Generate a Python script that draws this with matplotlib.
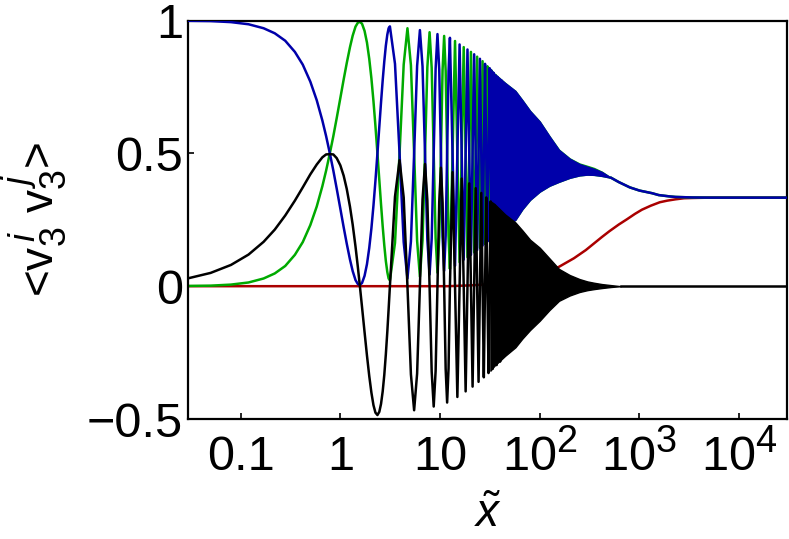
import matplotlib
matplotlib.use("Agg")
import matplotlib.pyplot as plt
from matplotlib.ticker import FixedLocator, FixedFormatter, NullLocator

try:
    import matplotlib._mathtext as _mt
    _mt.SHRINK_FACTOR = 0.78
except Exception:
    pass

plt.rcParams["font.family"] = ["Liberation Sans", "DejaVu Sans"]
plt.rcParams["mathtext.fontset"] = "custom"
plt.rcParams["mathtext.rm"] = "Liberation Sans"
plt.rcParams["mathtext.it"] = "Liberation Sans:italic"
plt.rcParams["mathtext.bf"] = "Liberation Sans:bold"

# ---------------- data ----------------
# distinct oscillations (x, then the three curves)
osc_x = [0.03, 0.05, 0.08, 0.12, 0.17, 0.22, 0.28, 0.35, 0.42, 0.5,
         0.58, 0.66, 0.72, 0.785, 0.85, 0.92, 1.0, 1.08, 1.16, 1.25,
         1.33, 1.42, 1.5, 1.571, 1.65, 1.75, 1.85, 1.95, 2.05, 2.15,
         2.25, 2.356, 2.46, 2.56, 2.66, 2.76, 2.86, 2.96, 3.05,
         3.142, 3.534, 3.927, 4.320, 4.712, 5.105, 5.498, 5.890, 6.283, 6.676,
         7.069, 7.461, 7.854, 8.247, 8.639, 9.032, 9.425, 9.817, 10.210, 10.603,
         10.996, 11.388, 11.781, 12.174, 12.566,
         13.352, 14.137, 14.923, 15.708, 16.493, 17.279, 18.064, 18.850, 19.635, 20.420,
         21.206, 21.991, 22.777, 23.562, 24.347, 25.133, 25.918, 26.704, 27.489, 28.274,
         29.060, 29.845, 30.631, 31.416, 32.201, 32.987, 33.772, 34.558, 35.343, 36.128,
         36.914, 37.699, 38.485, 39.270, 40.055, 40.841]

blue_osc = [0.999, 0.998, 0.994, 0.986, 0.971, 0.952, 0.924, 0.882, 0.834, 0.770,
            0.700, 0.624, 0.565, 0.500, 0.436, 0.367, 0.292, 0.222, 0.160, 0.100,
            0.057, 0.023, 0.008, 0.005, 0.012, 0.039, 0.083, 0.144, 0.218, 0.304,
            0.397, 0.500, 0.600, 0.692, 0.775, 0.846, 0.905, 0.947, 0.971,
            0.978, 0.837, 0.500, 0.166, 0.029, 0.168, 0.500, 0.829, 0.964, 0.827,
            0.500, 0.176, 0.044, 0.178, 0.500, 0.819, 0.949, 0.816, 0.500, 0.186,
            0.058, 0.189, 0.500, 0.809, 0.935,
            0.500, 0.077, 0.500, 0.910, 0.500, 0.100, 0.500, 0.891, 0.500, 0.118,
            0.500, 0.873, 0.500, 0.136, 0.500, 0.856, 0.500, 0.153, 0.499, 0.837,
            0.498, 0.168, 0.497, 0.821, 0.497, 0.181, 0.496, 0.803, 0.495, 0.195,
            0.495, 0.788, 0.494, 0.207, 0.494, 0.775]

green_osc = [0.001, 0.002, 0.006, 0.014, 0.029, 0.048, 0.076, 0.118, 0.166, 0.230,
             0.300, 0.376, 0.435, 0.500, 0.564, 0.633, 0.708, 0.778, 0.840, 0.900,
             0.943, 0.977, 0.992, 0.995, 0.988, 0.961, 0.917, 0.856, 0.782, 0.696,
             0.603, 0.500, 0.400, 0.308, 0.225, 0.154, 0.095, 0.053, 0.029,
             0.022, 0.163, 0.500, 0.834, 0.971, 0.832, 0.500, 0.171, 0.036, 0.173,
             0.500, 0.824, 0.956, 0.822, 0.500, 0.181, 0.051, 0.184, 0.500, 0.814,
             0.942, 0.811, 0.500, 0.191, 0.065,
             0.500, 0.923, 0.500, 0.090, 0.500, 0.900, 0.500, 0.109, 0.500, 0.882,
             0.500, 0.127, 0.500, 0.864, 0.500, 0.144, 0.500, 0.847, 0.499, 0.159,
             0.498, 0.828, 0.497, 0.173, 0.497, 0.811, 0.496, 0.189, 0.495, 0.795,
             0.495, 0.202, 0.494, 0.781, 0.494, 0.213]

black_osc = [0.030, 0.050, 0.080, 0.119, 0.167, 0.213, 0.266, 0.322, 0.372, 0.421,
             0.458, 0.485, 0.496, 0.497, 0.496, 0.482, 0.455, 0.416, 0.366, 0.299,
             0.232, 0.149, 0.071, 0.000, -0.078, -0.173, -0.261, -0.338, -0.401, -0.448,
             -0.476, -0.485, -0.473, -0.443, -0.396, -0.334, -0.257, -0.171, -0.087,
             0.000, 0.337, 0.474, 0.334, 0.000, -0.332, -0.467, -0.329, 0.000, 0.327,
             0.460, 0.324, 0.000, -0.322, -0.453, -0.319, 0.000, 0.316, 0.446, 0.314,
             0.000, -0.311, -0.438, -0.309, 0.000,
             0.429, 0.000, -0.417, 0.000, 0.405, 0.000, -0.396, 0.000, 0.387, 0.000,
             -0.378, 0.000, 0.369, 0.000, -0.360, 0.000, 0.351, 0.000, -0.343, 0.000,
             0.334, 0.000, -0.327, 0.000, 0.319, 0.000, -0.311, 0.000, 0.304, 0.000,
             -0.297, 0.000, 0.290, 0.000, -0.284, 0.000]

# densely oscillating part: envelopes of the filled bands
band_x = [32, 35, 45, 57, 67, 80, 100, 125, 156, 200, 250, 300, 350, 420, 520]
blue_hi = [0.818, 0.800, 0.765, 0.735, 0.700, 0.660, 0.620, 0.565, 0.513, 0.480,
           0.460, 0.450, 0.442, 0.430, 0.408]
blue_lo = [0.178, 0.190, 0.225, 0.250, 0.290, 0.325, 0.356, 0.378, 0.393, 0.408,
           0.417, 0.420, 0.419, 0.415, 0.408]
green_hi = [0.818, 0.800, 0.765, 0.735, 0.700, 0.660, 0.620, 0.565, 0.514, 0.481,
            0.462, 0.453, 0.445, 0.431, 0.408]
green_lo = [0.178, 0.190, 0.225, 0.250, 0.290, 0.325, 0.356, 0.378, 0.393, 0.408,
            0.417, 0.420, 0.419, 0.415, 0.408]

black_band_x = [32, 35, 45, 57, 67, 80, 100, 125, 156, 200, 250, 300, 350, 420, 520, 650]
black_hi = [0.320, 0.310, 0.270, 0.240, 0.210, 0.175, 0.145, 0.105, 0.065, 0.042,
            0.027, 0.018, 0.013, 0.008, 0.004, 0.000]
black_lo = [-0.318, -0.300, -0.262, -0.230, -0.197, -0.165, -0.130, -0.090, -0.055, -0.035,
            -0.022, -0.015, -0.011, -0.007, -0.003, 0.000]

# settled parts
tail_x = [520, 620, 800, 1000, 1340, 1560, 2000, 2300, 3400, 5000, 30000]
tail_y = [0.408, 0.392, 0.372, 0.360, 0.350, 0.343, 0.338, 0.336, 0.334, 0.3334, 0.3333]
black_tail_x = [650, 30000]
black_tail_y = [0.0, 0.0]

red_x = [0.03, 12, 20, 30, 40, 55, 70, 100, 156, 220, 290, 420, 500, 620, 750,
         900, 1060, 1300, 1600, 1900, 2300, 2800, 3400, 5000, 30000]
red_y = [0.0, 0.0, 0.003, 0.007, 0.012, 0.018, 0.025, 0.040, 0.073, 0.105, 0.136,
         0.185, 0.207, 0.232, 0.252, 0.272, 0.288, 0.303, 0.316, 0.322, 0.327,
         0.331, 0.332, 0.3333, 0.3333]

x_ticks = [0.1, 1, 10, 100, 1000, 10000]
x_tick_labels = ["0.1", "1", "10", r"$10^{2}$", r"$10^{3}$", r"$10^{4}$"]
y_ticks = [-0.5, 0, 0.5, 1]
y_tick_labels = ["\u22120.5", "0", "0.5", "1"]

BLUE = "#0000aa"
GREEN = "#00aa00"
RED = "#aa0000"
BLACK = "#000000"
LW = 1.8

# ---------------- figure ----------------
fig = plt.figure(figsize=(7.89, 5.39), dpi=100)
ax = fig.add_axes([0.2389, 0.2226, 0.7582, 0.7393])
ax.set_xscale("log")

ax.plot(red_x, red_y, color=RED, lw=LW, zorder=1)

ax.plot(osc_x, green_osc, color=GREEN, lw=LW, zorder=2)
ax.fill_between(band_x, green_lo, green_hi, color=GREEN, lw=1.0, zorder=2)
ax.plot(tail_x, tail_y, color=GREEN, lw=LW, zorder=2)

ax.plot(osc_x, blue_osc, color=BLUE, lw=LW, zorder=3)
ax.fill_between(band_x, blue_lo, blue_hi, color=BLUE, lw=1.0, zorder=3)
ax.plot(tail_x, tail_y, color=BLUE, lw=LW, zorder=3)

ax.plot(osc_x, black_osc, color=BLACK, lw=LW, zorder=4)
ax.fill_between(black_band_x, black_lo, black_hi, color=BLACK, lw=1.0, zorder=4)
ax.plot(black_tail_x, black_tail_y, color=BLACK, lw=LW, zorder=4)

ax.set_xlim(0.03, 30000)
ax.set_ylim(-0.5, 1)

ax.xaxis.set_major_locator(FixedLocator(x_ticks))
ax.xaxis.set_major_formatter(FixedFormatter(x_tick_labels))
ax.xaxis.set_minor_locator(NullLocator())
ax.yaxis.set_major_locator(FixedLocator(y_ticks))
ax.yaxis.set_major_formatter(FixedFormatter(y_tick_labels))

for s in ax.spines.values():
    s.set_linewidth(1.6)

ax.tick_params(axis="both", which="major", direction="in", length=4, width=1.2,
               labelsize=35, colors="black")
ax.tick_params(axis="x", pad=37)
ax.tick_params(axis="y", pad=4)
for lbl in ax.get_xticklabels():
    lbl.set_verticalalignment("baseline")

ax.set_xlabel(r"$\tilde{x}$", fontsize=33, va="bottom")
ax.xaxis.set_label_coords(0.5, -0.297)
ax.set_ylabel(r"<$\mathrm{v}_3^{\,i}$ $\mathrm{v}_3^{\,j}$>", fontsize=33)
ax.yaxis.set_label_coords(-0.2, 0.5)

fig.savefig("out.png", dpi=100)
